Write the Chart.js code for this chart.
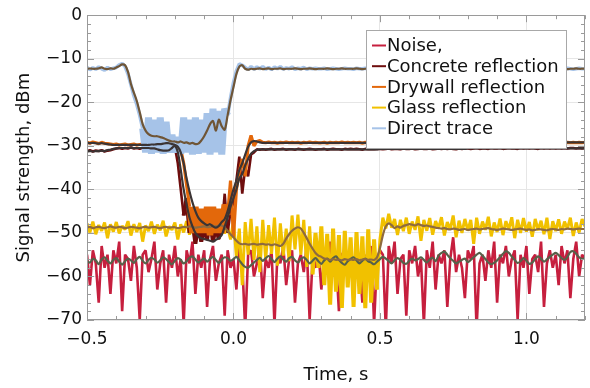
<!DOCTYPE html>
<html>
<head>
<meta charset="utf-8">
<script src="https://cdn.jsdelivr.net/npm/chart.js@4/dist/chart.umd.min.js"></script>
<style>
  body { margin: 0; background: #fff; }
  #chart { display: block; }
</style>
</head>
<body>
<canvas id="chart" width="590" height="388"></canvas>
<script>
// sampled every 10 ms starting at -0.5 s
const T0 = -0.5;
const DT = 0.01;

const legendLabels = ["Noise,", "Concrete reflection", "Drywall reflection", "Glass reflection", "Direct trace"];

const noiseRaw = [
  -55, -62, -54, -57, -66, -53, -58, -55, -64, -54,
  -57, -52, -68, -55, -56, -61, -53, -58, -70, -55,
  -54, -59, -56, -52, -63, -57, -54, -66, -55, -58,
  -53, -60, -56, -71, -54, -57, -52, -64, -55, -58,
  -54, -67, -56, -53, -61, -57, -55, -69, -54, -58,
  -56, -63, -53, -57, -72, -55, -54, -60, -57, -53,
  -65, -56, -58, -54, -71, -55, -57, -53, -62, -56,
  -54, -66, -57, -55, -59, -53, -70, -56, -58, -54,
  -63, -55, -57, -52, -60, -56, -68, -55, -54, -58,
  -57, -62, -54, -56, -66, -55, -58, -53, -71, -56,
  -54, -55, -72, -53, -57, -52, -64, -56, -55, -69,
  -54, -57, -53, -60, -56, -71, -54, -58, -52, -63,
  -55, -57, -54, -67, -56, -51, -59, -55, -58, -65,
  -54, -56, -53, -72, -57, -55, -61, -54, -58, -52,
  -66, -55, -57, -53, -60, -56, -54, -70, -55, -58,
  -53, -64, -56, -55, -59, -52, -67, -57, -54, -58,
  -55, -62, -53, -57, -54, -65, -56, -52, -60, -55,
  -56
];

const noiseSmooth = [
  -56.5, -56.8, -56.0, -56.3, -57.2, -56.1, -55.6, -56.4, -57.0, -56.2,
  -55.8, -56.6, -57.3, -56.5, -55.9, -56.3, -56.9, -56.0, -55.5, -56.4,
  -57.0, -56.2, -55.7, -56.1, -56.8, -56.3, -55.6, -56.0, -56.7, -57.2,
  -56.4, -55.8, -56.2, -57.0, -56.5, -55.7, -55.4, -56.1, -56.8, -56.3,
  -55.9, -56.6, -56.0, -55.5, -56.2, -56.9, -56.1, -55.6, -55.8, -56.4,
  -56.0, -55.5, -56.3, -57.2, -57.8, -58.0, -57.4, -56.8, -56.2, -55.7,
  -56.4, -55.8, -55.3, -56.0, -56.7, -55.9, -55.4, -56.1, -56.6, -55.8,
  -55.5, -56.3, -56.8, -56.0, -55.6, -56.2, -57.0, -56.4, -55.8, -56.5,
  -57.1, -56.3, -55.9, -56.6, -55.8, -55.4, -56.2, -56.9, -57.3, -56.5,
  -56.0, -55.6, -56.3, -57.0, -56.4, -55.9, -56.5, -56.8, -57.2, -56.6,
  -56.0, -55.5, -55.9, -56.5, -57.0, -56.3, -55.8, -56.2, -56.9, -57.1,
  -56.4, -55.9, -56.3, -56.0, -55.6, -56.2, -56.8, -56.1, -55.7, -56.5,
  -55.2, -54.6, -54.3, -55.0, -55.8, -56.4, -57.0, -56.6, -56.2, -55.9,
  -56.7, -56.2, -55.6, -55.0, -54.6, -55.2, -56.0, -56.8, -57.2, -56.9,
  -56.3, -55.6, -54.8, -54.2, -54.6, -55.4, -56.2, -56.9, -56.5, -55.8,
  -56.4, -57.1, -56.8, -56.0, -55.4, -55.9, -56.6, -56.1, -55.5, -55.0,
  -54.6, -55.1, -55.8, -56.2, -55.5, -54.4, -54.2, -54.8, -55.6, -56.0,
  -55.8
];

const concreteRaw = [
  -31.2, -31.0, -31.3, -31.1, -31.2, -31.0, -31.3, -31.1, -31.0, -30.8,
  -30.6, -30.5, -30.7, -30.5, -30.6, -30.4, -30.6, -30.5, -30.7, -30.5,
  -30.6, -30.5, -30.7, -30.6, -30.8, -31.0, -31.2, -31.1, -31.2, -30.8,
  -30.2, -34.0, -40.0, -46.0, -42.0, -50.0, -47.0, -52.5, -48.0, -52.0,
  -49.0, -51.5, -47.0, -52.0, -48.5, -51.5, -49.0, -41.0, -50.0, -45.0,
  -43.0, -38.0, -32.5, -41.0, -35.0, -37.0, -32.0, -31.5, -30.8, -30.9,
  -30.8, -30.9, -30.8, -30.7, -30.9, -30.8, -30.8, -30.7, -30.9, -30.8,
  -30.8, -30.9, -30.7, -30.8, -30.9, -30.8, -30.7, -30.8, -30.9, -30.8,
  -30.8, -30.7, -30.9, -30.8, -30.7, -30.8, -30.8, -30.9, -30.7, -30.8,
  -30.7, -30.8, -30.7, -30.8, -30.9, -30.7, -30.8, -30.7, -30.8, -30.7,
  -30.7, -30.8, -30.7, -30.6, -30.8, -30.7, -30.7, -30.8, -30.6, -30.7,
  -30.7, -30.6, -30.8, -30.7, -30.6, -30.7, -30.7, -30.6, -30.8, -30.7,
  -30.6, -30.7, -30.6, -30.7, -30.6, -30.7, -30.8, -30.6, -30.7, -30.6,
  -30.6, -30.7, -30.6, -30.5, -30.7, -30.6, -30.6, -30.7, -30.5, -30.6,
  -30.6, -30.5, -30.7, -30.6, -30.5, -30.6, -30.6, -30.7, -30.5, -30.6,
  -30.5, -30.6, -30.5, -30.6, -30.7, -30.5, -30.6, -30.5, -30.6, -30.5,
  -30.6, -30.5, -30.6, -30.5, -30.6, -30.5, -30.5, -30.6, -30.5, -30.6,
  -30.5
];

const concreteSmooth = [
  -31.3, -31.2, -31.3, -31.2, -31.2, -31.1, -31.2, -31.0, -30.9, -30.7,
  -30.6, -30.5, -30.5, -30.5, -30.5, -30.4, -30.5, -30.5, -30.5, -30.5,
  -30.5, -30.5, -30.6, -30.6, -30.8, -31.0, -31.1, -31.1, -31.0, -30.5,
  -30.0, -31.5, -35.5, -40.0, -43.5, -46.5, -48.5, -50.0, -50.8, -51.2,
  -51.4, -51.6, -51.8, -52.0, -51.6, -51.2, -50.5, -48.5, -46.5, -44.0,
  -42.0, -40.0, -37.5, -36.5, -34.5, -33.0, -31.8, -31.2, -30.9, -30.8,
  -30.8, -30.8, -30.8, -30.8, -30.8, -30.8, -30.8, -30.8, -30.8, -30.8,
  -30.8, -30.8, -30.8, -30.8, -30.8, -30.8, -30.8, -30.8, -30.8, -30.8,
  -30.8, -30.8, -30.8, -30.8, -30.8, -30.8, -30.8, -30.8, -30.8, -30.8,
  -30.8, -30.8, -30.8, -30.8, -30.8, -30.8, -30.8, -30.8, -30.8, -30.8,
  -30.7, -30.7, -30.7, -30.7, -30.7, -30.7, -30.7, -30.7, -30.7, -30.7,
  -30.7, -30.7, -30.7, -30.7, -30.7, -30.7, -30.7, -30.7, -30.7, -30.7,
  -30.7, -30.7, -30.7, -30.7, -30.7, -30.7, -30.7, -30.7, -30.7, -30.7,
  -30.6, -30.6, -30.6, -30.6, -30.6, -30.6, -30.6, -30.6, -30.6, -30.6,
  -30.6, -30.6, -30.6, -30.6, -30.6, -30.6, -30.6, -30.6, -30.6, -30.6,
  -30.6, -30.6, -30.6, -30.6, -30.6, -30.6, -30.6, -30.6, -30.6, -30.6,
  -30.6, -30.6, -30.6, -30.6, -30.6, -30.6, -30.6, -30.6, -30.6, -30.6,
  -30.6
];

const drywallRaw = [
  -29.2, -29.4, -29.1, -29.3, -29.5, -29.2, -29.4, -29.5, -29.6, -29.7,
  -29.6, -29.8, -29.7, -29.6, -29.8, -29.7, -29.6, -29.8, -29.7, -29.6,
  -29.8, -29.7, -29.6, -29.7, -29.5, -29.6, -29.4, -29.3, -29.4, -29.5,
  -29.8, -30.0, -30.8, -34.0, -39.0, -44.0, -50.0, -44.0, -50.0, -44.5,
  -50.0, -44.0, -50.5, -44.0, -50.0, -44.5, -50.0, -43.5, -46.0, -38.0,
  -51.0, -40.0, -36.0, -33.0, -37.0, -30.0, -27.6, -30.0, -29.0, -28.8,
  -29.2, -29.3, -29.1, -29.3, -29.2, -29.4, -29.2, -29.3, -29.1, -29.3,
  -29.2, -29.3, -29.2, -29.4, -29.2, -29.3, -29.1, -29.3, -29.2, -29.3,
  -29.3, -29.2, -29.4, -29.2, -29.3, -29.2, -29.3, -29.1, -29.3, -29.2,
  -29.3, -29.2, -29.3, -29.2, -29.4, -29.2, -29.3, -29.2, -29.3, -29.2,
  -29.2, -29.3, -29.2, -29.4, -29.2, -29.3, -29.2, -29.3, -29.1, -29.3,
  -29.2, -29.3, -29.2, -29.3, -29.2, -29.4, -29.2, -29.3, -29.2, -29.3,
  -29.2, -29.3, -29.1, -29.3, -29.2, -29.3, -29.2, -29.4, -29.2, -29.3,
  -29.2, -29.3, -29.2, -29.3, -29.1, -29.3, -29.2, -29.3, -29.2, -29.3,
  -29.2, -29.3, -29.2, -29.4, -29.2, -29.3, -29.2, -29.3, -29.2, -29.3,
  -29.2, -29.3, -29.1, -29.3, -29.2, -29.3, -29.2, -29.3, -29.2, -29.3,
  -29.2, -29.3, -29.2, -29.3, -29.2, -29.3, -29.2, -29.3, -29.2, -29.3,
  -29.2
];

const drywallSmooth = [
  -29.3, -29.4, -29.3, -29.4, -29.5, -29.4, -29.5, -29.6, -29.7, -29.8,
  -29.8, -29.8, -29.8, -29.8, -29.8, -29.8, -29.8, -29.8, -29.8, -29.8,
  -29.8, -29.8, -29.7, -29.7, -29.6, -29.6, -29.5, -29.4, -29.4, -29.6,
  -29.8, -30.2, -31.5, -34.0, -37.5, -40.5, -43.0, -45.0, -46.5, -47.3,
  -47.8, -48.2, -48.0, -48.5, -48.8, -48.4, -47.5, -46.8, -45.0, -42.5,
  -40.0, -38.0, -35.5, -34.0, -32.0, -30.2, -29.2, -28.9, -29.0, -29.2,
  -29.3, -29.3, -29.3, -29.3, -29.3, -29.3, -29.3, -29.3, -29.3, -29.3,
  -29.3, -29.3, -29.3, -29.3, -29.3, -29.3, -29.3, -29.3, -29.3, -29.3,
  -29.3, -29.3, -29.3, -29.3, -29.3, -29.3, -29.3, -29.3, -29.3, -29.3,
  -29.3, -29.3, -29.3, -29.3, -29.3, -29.3, -29.3, -29.3, -29.3, -29.3,
  -29.3, -29.3, -29.3, -29.3, -29.3, -29.3, -29.3, -29.3, -29.3, -29.3,
  -29.3, -29.3, -29.3, -29.3, -29.3, -29.3, -29.3, -29.3, -29.3, -29.3,
  -29.3, -29.3, -29.3, -29.3, -29.3, -29.3, -29.3, -29.3, -29.3, -29.3,
  -29.2, -29.2, -29.2, -29.2, -29.2, -29.2, -29.2, -29.2, -29.2, -29.2,
  -29.2, -29.2, -29.2, -29.2, -29.2, -29.2, -29.2, -29.2, -29.2, -29.2,
  -29.2, -29.2, -29.2, -29.2, -29.2, -29.2, -29.2, -29.2, -29.2, -29.2,
  -29.2, -29.2, -29.2, -29.2, -29.2, -29.2, -29.2, -29.2, -29.2, -29.2,
  -29.2
];

const glassRaw = [
  -47.8, -49.9, -47.4, -50.3, -48.2, -49.5, -47.6, -51.2, -48.0, -49.7,
  -47.5, -50.1, -48.4, -49.2, -47.3, -50.6, -48.0, -49.8, -47.7, -52.0,
  -48.3, -49.6, -47.4, -50.2, -48.1, -49.4, -47.2, -50.8, -48.5, -49.3,
  -47.6, -51.5, -48.0, -49.9, -47.3, -50.4, -48.2, -52.3, -47.5, -50.0,
  -48.4, -49.2, -47.1, -50.6, -47.8, -49.5, -46.9, -50.1, -48.6, -51.5,
  -47.2, -55.5, -49.0, -62.0, -47.5, -55.0, -46.8, -56.2, -48.5, -59.0,
  -47.0, -56.0, -48.2, -54.8, -46.5, -57.5, -47.8, -55.2, -49.0, -56.5,
  -46.0, -53.8, -45.8, -55.0, -47.0, -57.8, -48.5, -59.5, -50.0, -58.0,
  -48.5, -62.0, -50.2, -66.5, -49.0, -63.5, -50.5, -67.2, -49.5, -62.5,
  -51.0, -67.0, -49.8, -64.0, -50.8, -67.3, -49.2, -66.0, -51.5, -63.0,
  -51.5, -46.5, -49.0, -45.6, -48.8, -46.8, -50.5, -47.0, -49.6, -46.5,
  -50.2, -47.4, -49.3, -46.2, -51.8, -47.0, -49.5, -46.6, -50.4, -47.3,
  -49.0, -46.4, -50.6, -47.5, -49.2, -46.0, -51.0, -47.2, -50.0, -46.8,
  -49.5, -47.0, -52.5, -46.5, -50.2, -47.4, -49.3, -46.3, -50.8, -47.6,
  -49.8, -46.7, -50.5, -47.3, -49.2, -46.4, -51.2, -47.0, -50.0, -46.6,
  -49.7, -47.5, -50.9, -46.8, -49.4, -47.2, -50.3, -46.5, -51.4, -47.3,
  -49.6, -46.9, -50.2, -47.4, -49.1, -46.5, -50.7, -47.6, -49.9, -46.8,
  -48.5
];

const glassSmooth = [
  -48.8, -48.6, -48.9, -48.7, -48.6, -48.8, -48.9, -48.7, -48.5, -48.7,
  -48.8, -48.6, -48.7, -48.9, -48.8, -48.6, -48.7, -48.8, -48.9, -48.7,
  -48.6, -48.8, -48.7, -48.6, -48.8, -48.9, -48.7, -48.6, -48.8, -48.7,
  -48.7, -48.9, -48.8, -48.6, -48.7, -48.5, -48.6, -48.8, -48.7, -48.6,
  -48.5, -48.7, -48.6, -48.4, -48.5, -48.3, -48.3, -48.8, -49.5, -50.3,
  -51.0, -51.8, -52.4, -52.6, -52.5, -52.7, -52.6, -52.5, -52.7, -52.6,
  -52.5, -52.7, -52.6, -52.8, -52.6, -52.8, -53.0, -52.5, -51.3, -50.3,
  -49.5, -49.0, -48.7, -49.0, -50.0, -51.2, -52.5, -53.6, -54.6, -55.2,
  -55.5, -55.9, -56.0, -56.2, -56.0, -56.2, -56.1, -56.3, -56.0, -56.2,
  -56.1, -56.2, -56.0, -56.3, -56.1, -56.0, -56.2, -56.1, -56.2, -55.6,
  -53.5, -50.5, -48.5, -47.8, -48.2, -48.9, -48.5, -48.8, -48.4, -48.2,
  -48.0, -48.1, -48.3, -48.0, -48.2, -48.4, -48.3, -48.5, -48.6, -48.8,
  -48.9, -49.0, -48.9, -49.1, -49.2, -49.0, -49.1, -49.3, -49.2, -49.1,
  -49.3, -49.2, -49.1, -49.0, -49.2, -49.1, -49.0, -48.9, -49.1, -49.2,
  -49.3, -49.2, -49.0, -49.1, -49.2, -49.3, -49.2, -49.1, -49.0, -49.2,
  -49.3, -49.2, -49.4, -49.3, -49.1, -49.2, -49.3, -49.4, -49.2, -49.1,
  -49.2, -49.3, -49.1, -49.2, -49.0, -49.1, -49.2, -49.1, -49.0, -49.1,
  -49.1
];

const directRaw = [
  -12.0, -12.5, -12.1, -12.4, -11.9, -12.3, -12.6, -12.0, -12.4, -12.2,
  -12.0, -11.4, -11.1, -11.8, -13.5, -16.0, -18.5, -20.5, -23.0, -26.0,
  -31.5, -23.5, -31.8, -24.0, -31.5, -23.5, -31.8, -24.5, -31.5, -27.5,
  -31.5, -28.0, -31.8, -23.5, -31.5, -24.0, -32.0, -23.5, -31.8, -24.0,
  -31.5, -22.5, -32.0, -21.5, -31.5, -22.0, -32.0, -21.5, -23.0, -19.0,
  -15.5, -12.8, -11.2, -11.5, -12.0, -12.5, -11.8, -12.4, -11.9, -12.3,
  -11.8, -12.4, -12.0, -12.5, -11.9, -12.3, -11.8, -12.4, -12.1, -12.3,
  -11.9, -12.4, -12.2, -12.3, -12.0, -12.4, -12.2, -12.3, -12.2, -12.3,
  -12.3, -12.2, -12.4, -12.3, -12.2, -12.3, -12.4, -12.3, -12.2, -12.3,
  -12.3, -12.4, -12.2, -12.3, -12.3, -12.2, -12.4, -12.3, -12.3, -12.2,
  -12.3, -12.2, -12.4, -12.3, -12.2, -12.3, -12.4, -12.3, -12.2, -12.3,
  -12.3, -12.4, -12.2, -12.3, -12.3, -12.2, -12.4, -12.3, -12.3, -12.2,
  -12.3, -12.2, -12.4, -12.3, -12.2, -12.3, -12.4, -12.3, -12.2, -12.3,
  -12.3, -12.4, -12.2, -12.3, -12.3, -12.2, -12.4, -12.3, -12.3, -12.2,
  -12.3, -12.2, -12.4, -12.3, -12.2, -12.3, -12.4, -12.3, -12.2, -12.3,
  -12.3, -12.4, -12.2, -12.3, -12.3, -12.2, -12.4, -12.3, -12.3, -12.2,
  -12.3, -12.2, -12.4, -12.3, -12.2, -12.3, -12.4, -12.3, -12.2, -12.3,
  -12.3
];

const directSmooth = [
  -12.3, -12.2, -12.3, -12.3, -12.2, -12.0, -12.3, -12.4, -12.2, -12.3,
  -12.0, -11.7, -11.3, -11.5, -13.0, -15.8, -17.8, -19.7, -22.3, -25.0,
  -26.5, -27.3, -27.7, -27.8, -27.8, -28.0, -28.2, -28.5, -28.8, -29.0,
  -29.0, -29.2, -29.0, -29.3, -29.2, -29.5, -29.3, -29.6, -29.5, -28.8,
  -27.8, -26.5, -25.0, -24.3, -26.5, -24.0, -25.5, -26.3, -23.0, -19.5,
  -16.5, -13.5, -11.8, -11.5, -12.3, -12.5, -12.3, -12.4, -12.3, -12.2,
  -12.4, -12.3, -12.2, -12.4, -12.3, -12.3, -12.2, -12.4, -12.3, -12.3,
  -12.3, -12.2, -12.3, -12.4, -12.3, -12.3, -12.2, -12.3, -12.4, -12.3,
  -12.3, -12.3, -12.2, -12.3, -12.4, -12.3, -12.3, -12.2, -12.3, -12.3,
  -12.3, -12.3, -12.2, -12.3, -12.4, -12.3, -12.3, -12.2, -12.3, -12.3,
  -12.3, -12.3, -12.2, -12.3, -12.4, -12.3, -12.3, -12.2, -12.3, -12.3,
  -12.3, -12.3, -12.2, -12.3, -12.4, -12.3, -12.3, -12.2, -12.3, -12.3,
  -12.3, -12.3, -12.2, -12.3, -12.4, -12.3, -12.3, -12.2, -12.3, -12.3,
  -12.3, -12.3, -12.2, -12.3, -12.4, -12.3, -12.3, -12.2, -12.3, -12.3,
  -12.3, -12.3, -12.2, -12.3, -12.4, -12.3, -12.3, -12.2, -12.3, -12.3,
  -12.3, -12.3, -12.2, -12.3, -12.4, -12.3, -12.3, -12.2, -12.3, -12.3,
  -12.3, -12.3, -12.2, -12.3, -12.4, -12.3, -12.3, -12.2, -12.3, -12.3,
  -12.3
];

const xMajorTicks = [-0.5, 0, 0.5, 1.0];

const rawColors = ["#c61f3e", "#6e0d0d", "#e3680b", "#f1c100", "#a6c3e8"];
const rawWidths = [2.6, 2.6, 3.2, 3.0, 3.6];
// where the raw trace is so dense that it reads as a solid band: [from, to, width]
const bandSpans = [null, [-0.17, -0.05, 4.0], [-0.15, -0.02, 6.5], [0.27, 0.49, 4.0], [-0.31, -0.02, 7.0]];
const smoothColors = ["#57614a", "#3b3434", "#3b3434", "#8e6a3f", "#6f5536"];

// turn a sample list into {x, y} points
function toPoints(values) {
  return values.map((v, i) => ({ x: +(T0 + i * DT).toFixed(2), y: v }));
}

function minusSign(s) {
  return String(s).replace("-", "\u2212");
}

const rawSeries = [noiseRaw, concreteRaw, drywallRaw, glassRaw, directRaw];
const smoothSeries = [noiseSmooth, concreteSmooth, drywallSmooth, glassSmooth, directSmooth];

// raw traces underneath, smoothed traces on top (higher order = drawn first)
const rawOrder = [20, 14, 13, 18, 12];
const smoothOrder = [6, 4, 3, 5, 1];

const datasets = [];
rawSeries.forEach((vals, k) => {
  const span = bandSpans[k];
  datasets.push({
    label: legendLabels[k],
    data: toPoints(vals),
    borderColor: rawColors[k],
    borderWidth: rawWidths[k],
    borderJoinStyle: "bevel",
    pointRadius: 0,
    tension: 0,
    order: rawOrder[k],
    segment: {
      borderWidth: (c) => {
        if (!span) return undefined;
        const t = c.p0.parsed.x;
        return (t >= span[0] && t < span[1]) ? span[2] : undefined;
      }
    }
  });
});
smoothSeries.forEach((vals, k) => {
  datasets.push({
    label: legendLabels[k] + " (smoothed)",
    data: toPoints(vals),
    borderColor: smoothColors[k],
    borderWidth: 2.2,
    pointRadius: 0,
    tension: 0.3,
    order: smoothOrder[k]
  });
});

const FONT = "DejaVu Sans";

// frame with inward major/minor ticks on all four sides
const frameTicks = {
  id: "frameTicks",
  afterDatasetsDraw(chart) {
    const { ctx, chartArea: a, scales: { x, y } } = chart;
    ctx.save();
    ctx.strokeStyle = "#9a9a9a";
    ctx.lineWidth = 1;
    ctx.beginPath();
    for (let k = 0; k <= 17; k++) {
      const v = -0.5 + k * 0.1;
      const px = Math.round(x.getPixelForValue(v)) + 0.5;
      const len = (k % 5 == 0) ? 7 : 4;
      ctx.moveTo(px, a.bottom); ctx.lineTo(px, a.bottom - len);
      ctx.moveTo(px, a.top); ctx.lineTo(px, a.top + len);
    }
    for (let k = 0; k <= 35; k++) {
      const v = -70 + k * 2;
      const py = Math.round(y.getPixelForValue(v)) + 0.5;
      const len = (k % 5 == 0) ? 7 : 4;
      ctx.moveTo(a.left, py); ctx.lineTo(a.left + len, py);
      ctx.moveTo(a.right, py); ctx.lineTo(a.right - len, py);
    }
    ctx.stroke();
    ctx.strokeRect(Math.round(a.left) + 0.5, Math.round(a.top) + 0.5,
      Math.round(a.right - a.left) - 1, Math.round(a.bottom - a.top) - 1);
    ctx.restore();
  }
};

// legend box inside the plot, top right
const boxLegend = {
  id: "boxLegend",
  afterDraw(chart) {
    const ctx = chart.ctx;
    const bx = 366, by = 30, bw = 200, bh = 118;
    ctx.save();
    ctx.fillStyle = "#ffffff";
    ctx.fillRect(bx, by, bw, bh);
    ctx.strokeStyle = "#a8a8a8";
    ctx.lineWidth = 1;
    ctx.strokeRect(bx + 0.5, by + 0.5, bw, bh);
    ctx.font = "18px '" + FONT + "'";
    ctx.textBaseline = "middle";
    legendLabels.forEach((lab, k) => {
      const ry = by + 15.5 + k * 20.7;
      ctx.strokeStyle = rawColors[k];
      ctx.lineWidth = 2;
      ctx.beginPath();
      ctx.moveTo(bx + 6, ry);
      ctx.lineTo(bx + 20, ry);
      ctx.stroke();
      ctx.fillStyle = "#111";
      ctx.fillText(lab, bx + 21, ry + 1);
    });
    ctx.restore();
  }
};

new Chart(document.getElementById("chart"), {
  type: "line",
  data: { datasets: datasets },
  options: {
    responsive: false,
    animation: false,
    devicePixelRatio: 1,
    layout: { padding: { top: 13, right: 5, left: 0, bottom: 0 } },
    plugins: {
      legend: { display: false },
      tooltip: { enabled: false }
    },
    scales: {
      x: {
        type: "linear",
        min: -0.5,
        max: 1.2,
        afterBuildTicks: (scale) => { scale.ticks = xMajorTicks.map(v => ({ value: v })); },
        afterFit: (scale) => { scale.height = 68; },
        grid: { color: "#e6e6e6", drawTicks: false },
        border: { display: false },
        ticks: {
          padding: 9,
          color: "#111",
          font: { family: FONT, size: 17 },
          maxRotation: 0,
          callback: (v) => minusSign(Number(v).toFixed(1))
        },
        title: {
          display: true,
          text: "Time, s",
          color: "#111",
          font: { family: FONT, size: 18 },
          padding: { top: 0, bottom: 2 }
        }
      },
      y: {
        min: -70,
        max: 0,
        afterFit: (scale) => { scale.width = 87; },
        grid: { color: "#e6e6e6", drawTicks: false },
        border: { display: false },
        ticks: {
          stepSize: 10,
          padding: 5,
          color: "#111",
          font: { family: FONT, size: 17 },
          callback: (v) => minusSign(v)
        },
        title: {
          display: true,
          text: "Signal strength, dBm",
          color: "#111",
          font: { family: FONT, size: 18 },
          padding: { top: 14, bottom: 0 }
        }
      }
    }
  },
  plugins: [frameTicks, boxLegend]
});
</script>
</body>
</html>
